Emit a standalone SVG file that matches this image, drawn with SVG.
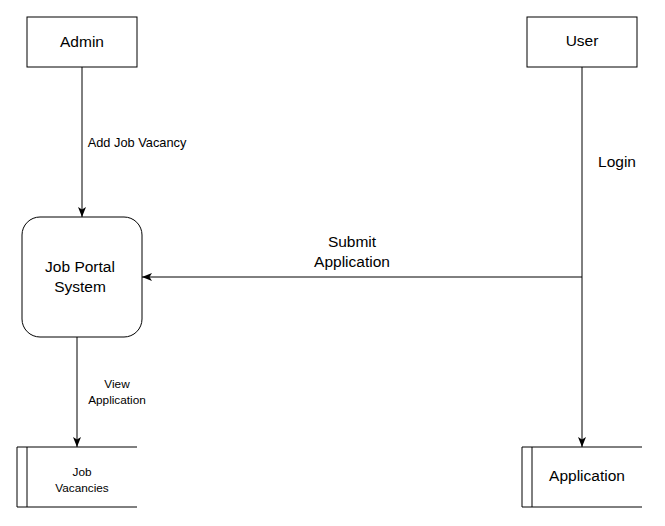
<svg xmlns="http://www.w3.org/2000/svg" width="665" height="526" viewBox="0 0 665 526">
<style>
.box{fill:#fff;stroke:#000;stroke-width:1}
.ln{fill:none;stroke:#000;stroke-width:1}
.t{font-family:"Liberation Sans",Arial,sans-serif;fill:#000;text-anchor:middle}
.t14{font-size:15.5px}
.t11{font-size:11.8px}
.t12{font-size:12.8px}
</style>
<defs>
<marker id="arr" viewBox="0 0 10 10" refX="10" refY="5" markerWidth="10" markerHeight="10" markerUnits="userSpaceOnUse" orient="auto">
<path d="M0,1 L10,5 L0,9 L2.5,5 Z" fill="#000"/>
</marker>
</defs>
<rect width="665" height="526" fill="#fff"/>
<g id="connectors">
<path class="ln" d="M82,67 V217" marker-end="url(#arr)"/>
<path class="ln" d="M582,67 V447" marker-end="url(#arr)"/>
<path class="ln" d="M582,277 H142" marker-end="url(#arr)"/>
<path class="ln" d="M77,337 V447" marker-end="url(#arr)"/>
<text class="t t12" x="137" y="147">Add Job Vacancy</text>
<text class="t t14" x="617" y="167">Login</text>
<text class="t t14" x="352" y="247">Submit</text>
<text class="t t14" x="352" y="267">Application</text>
<text class="t t11" x="117" y="388">View</text>
<text class="t t11" x="117" y="404">Application</text>
</g>
<g id="admin">
<rect class="box" x="27" y="17" width="110" height="50"/>
<text class="t t14" x="82" y="47">Admin</text>
</g>
<g id="user">
<rect class="box" x="527" y="17" width="110" height="50"/>
<text class="t t14" x="582" y="46">User</text>
</g>
<g id="system">
<rect class="box" x="22" y="217" width="120" height="120" rx="18" ry="18"/>
<text class="t t14" x="80" y="272">Job Portal</text>
<text class="t t14" x="80" y="292">System</text>
</g>
<g id="jobvacancies">
<path class="ln" d="M137,447 H17 V507 H137 M27,447 V507"/>
<text class="t t11" x="82" y="476">Job</text>
<text class="t t11" x="82" y="492">Vacancies</text>
</g>
<g id="application">
<path class="ln" d="M642,447 H522 V507 H642 M532,447 V507"/>
<text class="t t14" x="587" y="481">Application</text>
</g>
</svg>
